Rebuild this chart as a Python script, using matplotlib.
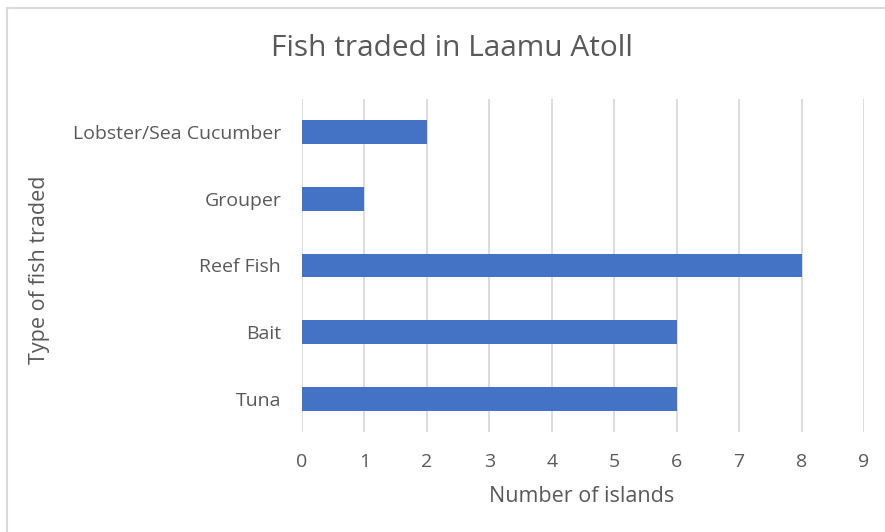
import matplotlib
matplotlib.use("Agg")
import matplotlib.pyplot as plt
from matplotlib.lines import Line2D

# Dados
categories = ["Tuna", "Bait", "Reef Fish", "Grouper", "Lobster/Sea Cucumber"]
islands = [6, 6, 8, 1, 2]
x_ticks = list(range(0, 10))

bar_color = "#4472C4"
text_color = "#595959"
grid_color = "#D9D9D9"

plt.rcParams["font.family"] = ["Open Sans", "DejaVu Sans"]

fig = plt.figure(figsize=(8.85, 5.32), dpi=100)
ax = fig.add_axes([302 / 885, 1 - 432 / 532, (864 - 302) / 885, (432 - 99) / 532])

ax.barh(range(len(categories)), islands, height=0.36, color=bar_color, zorder=3)

ax.set_xlim(0, 9)
ax.set_ylim(-0.5, len(categories) - 0.5)
ax.set_xticks(x_ticks)
ax.set_yticks(range(len(categories)))
ax.set_yticklabels(categories)
ax.grid(axis="x", color=grid_color, linewidth=1.3, zorder=0)
ax.tick_params(axis="both", length=0, labelsize=14, colors=text_color)
ax.tick_params(axis="x", pad=15)
ax.tick_params(axis="y", pad=15)
for s in ax.spines.values():
    s.set_visible(False)

# Títulos dos eixos e do gráfico
fig.text(582 / 885, 1 - 496 / 532, "Number of islands", ha="center", va="center",
         fontsize=15.5, color=text_color)
fig.text(40 / 885, 1 - 270 / 532, "Type of fish traded", ha="center", va="center",
         rotation=90, fontsize=15.5, color=text_color)
fig.text(452 / 885, 1 - 48 / 532, "Fish traded in Laamu Atoll", ha="center", va="center",
         fontsize=21.5, color=text_color)

# Borda do gráfico
fig.add_artist(Line2D([7 / 885, 7 / 885], [0, 1 - 8 / 532], color=grid_color, linewidth=1.5))
fig.add_artist(Line2D([7 / 885, 1], [1 - 8 / 532, 1 - 8 / 532], color=grid_color, linewidth=1.5))

fig.savefig("out.png", dpi=100)
